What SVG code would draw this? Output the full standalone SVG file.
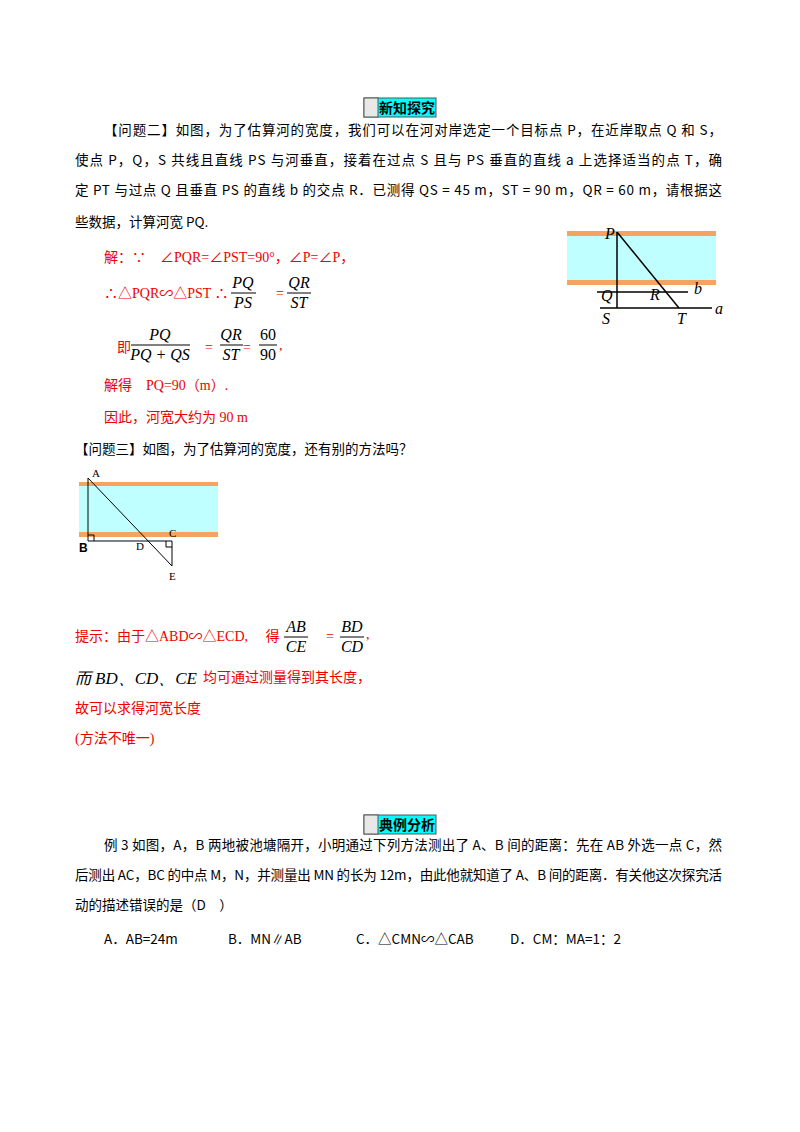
<svg xmlns="http://www.w3.org/2000/svg" width="800" height="1132" viewBox="0 0 800 1132">
<style>
.t{font-family:"Noto Sans CJK SC","Liberation Serif",serif;font-size:13.5px;fill:#000}
.r{font-family:"Liberation Serif","Noto Sans CJK SC",serif;font-size:14px;fill:#e00}
.m{font-family:"Liberation Serif",serif;font-size:16px;font-style:italic;fill:#000}
.h{font-family:"Noto Sans CJK SC",sans-serif;font-size:14px;font-weight:bold;fill:#000}
.l{stroke:#000;stroke-width:1.5;fill:none}
.fl{stroke:#000;stroke-width:1}
.lb{font-family:"Liberation Serif",serif;font-size:16px;font-style:italic}
.sl{font-family:"Liberation Serif",serif;font-size:11px}
</style>
<rect width="800" height="1132" fill="#fff"/>
<g id="header1">
<rect x="364" y="98" width="72" height="19" fill="#00ffff" stroke="#555"/>
<rect x="364" y="98" width="14" height="19" fill="#e8e8e8" stroke="#555"/>
<text class="h" x="407" y="113" text-anchor="middle">新知探究</text>
</g>
<g id="problem2">
<text class="t" x="104" y="135" textLength="618" lengthAdjust="spacing">【问题二】如图，为了估算河的宽度，我们可以在河对岸选定一个目标点 P，在近岸取点 Q 和 S，</text>
<text class="t" x="75" y="165" textLength="647" lengthAdjust="spacing">使点 P，Q，S 共线且直线 PS 与河垂直，接着在过点 S 且与 PS 垂直的直线 a 上选择适当的点 T，确</text>
<text class="t" x="75" y="195" textLength="647" lengthAdjust="spacing">定 PT 与过点 Q 且垂直 PS 的直线 b 的交点 R．已测得 QS = 45 m，ST = 90 m，QR = 60 m，请根据这</text>
<text class="t" x="75" y="227">些数据，计算河宽 PQ.</text>
</g>
<g id="figure1">
<rect x="567" y="231" width="149" height="5" fill="#f4a460"/>
<rect x="567" y="236" width="149" height="44" fill="#c0ffff"/>
<rect x="567" y="280" width="149" height="5" fill="#f4a460"/>
<line class="l" x1="617" y1="232" x2="617" y2="308"/>
<line class="l" x1="617" y1="232" x2="679" y2="308"/>
<line class="l" x1="597" y1="292" x2="688" y2="292"/>
<line class="l" x1="600" y1="308" x2="712" y2="308"/>
<text class="lb" x="605" y="239">P</text>
<text class="lb" x="601" y="301">Q</text>
<text class="lb" x="650" y="300">R</text>
<text class="lb" x="694" y="294">b</text>
<text class="lb" x="602" y="324">S</text>
<text class="lb" x="677" y="324">T</text>
<text class="lb" x="715" y="314">a</text>
</g>
<g id="solution">
<text class="r" x="104" y="262">解：∵　∠PQR=∠PST=90°，∠P=∠P，</text>
<text class="r" x="104" y="298">∴△PQR∽△PST ∴</text>
<text class="m" x="243" y="288" text-anchor="middle">PQ</text>
<line class="fl" x1="231" y1="293" x2="256" y2="293"/>
<text class="m" x="243" y="308" text-anchor="middle">PS</text>
<text class="r" x="276" y="298">=</text>
<text class="m" x="299" y="288" text-anchor="middle">QR</text>
<line class="fl" x1="287" y1="293" x2="311" y2="293"/>
<text class="m" x="299" y="308" text-anchor="middle">ST</text>
<text class="r" x="117" y="352">即</text>
<text class="m" x="160" y="340" text-anchor="middle">PQ</text>
<line class="fl" x1="131" y1="345" x2="190" y2="345"/>
<text class="m" x="160" y="360" text-anchor="middle">PQ + QS</text>
<text class="r" x="205" y="352">=</text>
<text class="m" x="231" y="340" text-anchor="middle">QR</text>
<line class="fl" x1="220" y1="345" x2="243" y2="345"/>
<text class="m" x="231" y="360" text-anchor="middle">ST</text>
<text class="r" x="243" y="352">=</text>
<text class="m" x="268" y="340" text-anchor="middle" style="font-style:normal">60</text>
<line class="fl" x1="259" y1="345" x2="277" y2="345"/>
<text class="m" x="268" y="360" text-anchor="middle" style="font-style:normal">90</text>
<text class="r" x="279" y="350">,</text>
<text class="r" x="104" y="390">解得　PQ=90（m）.</text>
<text class="r" x="104" y="422">因此，河宽大约为 90 m</text>
</g>
<g id="problem3">
<text class="t" x="75" y="454">【问题三】如图，为了估算河的宽度，还有别的方法吗？</text>
</g>
<g id="figure2">
<rect x="79" y="482" width="139" height="4" fill="#f4a460"/>
<rect x="79" y="486" width="139" height="46" fill="#c0ffff"/>
<rect x="79" y="532" width="139" height="5" fill="#f4a460"/>
<line class="fl" x1="88" y1="478" x2="88" y2="541"/>
<line class="fl" x1="88" y1="541" x2="172" y2="541"/>
<line class="fl" x1="172" y1="541" x2="172" y2="566"/>
<line class="fl" x1="88" y1="478" x2="172" y2="566"/>
<polyline class="fl" fill="none" points="88,535 94,535 94,541"/>
<polyline class="fl" fill="none" points="166,541 166,547 172,547"/>
<text class="sl" x="92" y="477">A</text>
<text x="79" y="552" style="font-family:'Liberation Sans',sans-serif;font-size:12px;font-weight:bold">B</text>
<text class="sl" x="136" y="550">D</text>
<text class="sl" x="169" y="537">C</text>
<text class="sl" x="169" y="580">E</text>
</g>
<g id="hint">
<text class="r" x="75" y="641">提示：由于△ABD∽△ECD,　 得</text>
<text class="m" x="296" y="632" text-anchor="middle">AB</text>
<line class="fl" x1="284" y1="637" x2="308" y2="637"/>
<text class="m" x="296" y="652" text-anchor="middle">CE</text>
<text class="r" x="326" y="641">=</text>
<text class="m" x="352" y="632" text-anchor="middle">BD</text>
<line class="fl" x1="340" y1="637" x2="364" y2="637"/>
<text class="m" x="352" y="652" text-anchor="middle">CD</text>
<text class="r" x="366" y="639">,</text>
<text x="75" y="684" style="font-family:'Noto Sans CJK SC',serif;font-size:16px;font-style:italic">而</text>
<text class="m" x="95" y="684" style="font-size:17px">BD、CD、CE</text>
<text class="r" x="203" y="682">均可通过测量得到其长度，</text>
<text class="r" x="75" y="713">故可以求得河宽长度</text>
<text class="r" x="75" y="743">(方法不唯一)</text>
</g>
<g id="header2">
<rect x="364" y="815" width="72" height="19" fill="#00ffff" stroke="#555"/>
<rect x="364" y="815" width="14" height="19" fill="#e8e8e8" stroke="#555"/>
<text class="h" x="407" y="830" text-anchor="middle">典例分析</text>
</g>
<g id="example3">
<text class="t" x="104" y="850" textLength="618" lengthAdjust="spacing">例 3 如图，A，B 两地被池塘隔开，小明通过下列方法测出了 A、B 间的距离：先在 AB 外选一点 C，然</text>
<text class="t" x="75" y="880" textLength="647" lengthAdjust="spacing">后测出 AC，BC 的中点 M，N，并测量出 MN 的长为 12m，由此他就知道了 A、B 间的距离．有关他这次探究活</text>
<text class="t" x="75" y="910">动的描述错误的是（D　）</text>
<text class="t" x="104" y="944">A．AB=24m</text>
<text class="t" x="228" y="944">B．MN∥AB</text>
<text class="t" x="356" y="944">C．△CMN∽△CAB</text>
<text class="t" x="510" y="944">D．CM：MA=1：2</text>
</g>
</svg>
